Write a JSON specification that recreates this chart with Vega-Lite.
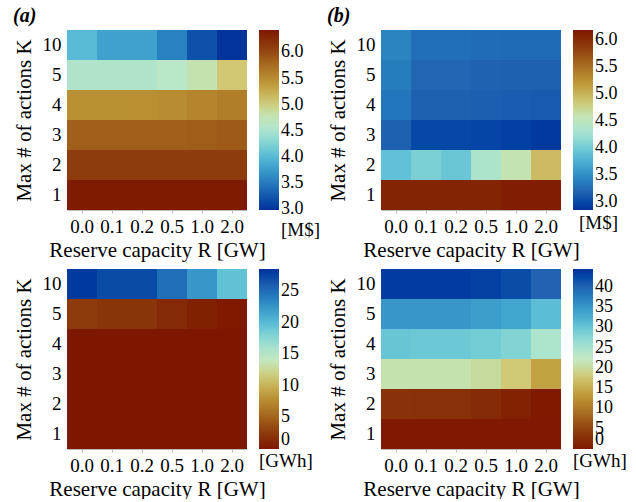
{
  "$schema": "https://vega.github.io/schema/vega-lite/v6.json",
  "padding": {"left": 13, "top": 6, "right": 0, "bottom": 0},
  "background": "white",
  "spacing": 9,
  "resolve": {"scale": {"color": "independent"}, "legend": {"color": "independent"}},
  "config": {
    "font": "Liberation Serif",
    "view": {"stroke": null},
    "axis": {"labelFont": "Liberation Serif", "titleFont": "Liberation Serif", "labelFontSize": 19, "titleFontSize": 21, "titleFontWeight": "normal", "labelColor": "#000", "titleColor": "#000", "grid": false},
    "legend": {"labelFont": "Liberation Serif", "titleFont": "Liberation Serif", "labelFontSize": 18, "titleFontSize": 19, "titleFontWeight": "normal", "labelColor": "#000", "titleColor": "#000", "gradientLength": 180, "gradientThickness": 20, "offset": 12, "titleOrient": "bottom", "titleAnchor": "end", "labelOverlap": false, "labelBaseline": "middle", "labelOffset": 4, "titlePadding": 3},
    "title": {"font": "Liberation Serif", "fontSize": 20, "fontStyle": "italic", "fontWeight": "bold", "anchor": "start", "frame": "bounds", "offset": 4}
  },
  "datasets": {
    "a": [
      {"K": "10", "R": "0.0", "v": 4.0}, {"K": "10", "R": "0.1", "v": 3.8}, {"K": "10", "R": "0.2", "v": 3.8}, {"K": "10", "R": "0.5", "v": 3.55}, {"K": "10", "R": "1.0", "v": 3.2}, {"K": "10", "R": "2.0", "v": 3.0},
      {"K": "5", "R": "0.0", "v": 4.55}, {"K": "5", "R": "0.1", "v": 4.55}, {"K": "5", "R": "0.2", "v": 4.55}, {"K": "5", "R": "0.5", "v": 4.62}, {"K": "5", "R": "1.0", "v": 4.8}, {"K": "5", "R": "2.0", "v": 5.05},
      {"K": "4", "R": "0.0", "v": 5.47}, {"K": "4", "R": "0.1", "v": 5.47}, {"K": "4", "R": "0.2", "v": 5.48}, {"K": "4", "R": "0.5", "v": 5.5}, {"K": "4", "R": "1.0", "v": 5.56}, {"K": "4", "R": "2.0", "v": 5.62},
      {"K": "3", "R": "0.0", "v": 5.85}, {"K": "3", "R": "0.1", "v": 5.85}, {"K": "3", "R": "0.2", "v": 5.85}, {"K": "3", "R": "0.5", "v": 5.85}, {"K": "3", "R": "1.0", "v": 5.86}, {"K": "3", "R": "2.0", "v": 5.88},
      {"K": "2", "R": "0.0", "v": 6.1}, {"K": "2", "R": "0.1", "v": 6.1}, {"K": "2", "R": "0.2", "v": 6.1}, {"K": "2", "R": "0.5", "v": 6.1}, {"K": "2", "R": "1.0", "v": 6.1}, {"K": "2", "R": "2.0", "v": 6.1},
      {"K": "1", "R": "0.0", "v": 6.4}, {"K": "1", "R": "0.1", "v": 6.4}, {"K": "1", "R": "0.2", "v": 6.4}, {"K": "1", "R": "0.5", "v": 6.4}, {"K": "1", "R": "1.0", "v": 6.4}, {"K": "1", "R": "2.0", "v": 6.4}
    ],
    "b": [
      {"K": "10", "R": "0.0", "v": 3.42}, {"K": "10", "R": "0.1", "v": 3.27}, {"K": "10", "R": "0.2", "v": 3.27}, {"K": "10", "R": "0.5", "v": 3.25}, {"K": "10", "R": "1.0", "v": 3.24}, {"K": "10", "R": "2.0", "v": 3.24},
      {"K": "5", "R": "0.0", "v": 3.37}, {"K": "5", "R": "0.1", "v": 3.2}, {"K": "5", "R": "0.2", "v": 3.2}, {"K": "5", "R": "0.5", "v": 3.18}, {"K": "5", "R": "1.0", "v": 3.17}, {"K": "5", "R": "2.0", "v": 3.17},
      {"K": "4", "R": "0.0", "v": 3.33}, {"K": "4", "R": "0.1", "v": 3.17}, {"K": "4", "R": "0.2", "v": 3.17}, {"K": "4", "R": "0.5", "v": 3.15}, {"K": "4", "R": "1.0", "v": 3.14}, {"K": "4", "R": "2.0", "v": 3.12},
      {"K": "3", "R": "0.0", "v": 3.17}, {"K": "3", "R": "0.1", "v": 3.0}, {"K": "3", "R": "0.2", "v": 3.0}, {"K": "3", "R": "0.5", "v": 2.98}, {"K": "3", "R": "1.0", "v": 2.95}, {"K": "3", "R": "2.0", "v": 2.9},
      {"K": "2", "R": "0.0", "v": 3.9}, {"K": "2", "R": "0.1", "v": 4.05}, {"K": "2", "R": "0.2", "v": 3.95}, {"K": "2", "R": "0.5", "v": 4.35}, {"K": "2", "R": "1.0", "v": 4.6}, {"K": "2", "R": "2.0", "v": 4.95},
      {"K": "1", "R": "0.0", "v": 6.08}, {"K": "1", "R": "0.1", "v": 6.08}, {"K": "1", "R": "0.2", "v": 6.08}, {"K": "1", "R": "0.5", "v": 6.08}, {"K": "1", "R": "1.0", "v": 6.15}, {"K": "1", "R": "2.0", "v": 6.15}
    ],
    "c": [
      {"K": "10", "R": "0.0", "v": 28}, {"K": "10", "R": "0.1", "v": 27}, {"K": "10", "R": "0.2", "v": 27}, {"K": "10", "R": "0.5", "v": 25}, {"K": "10", "R": "1.0", "v": 22.5}, {"K": "10", "R": "2.0", "v": 19.5},
      {"K": "5", "R": "0.0", "v": 2.6}, {"K": "5", "R": "0.1", "v": 2.1}, {"K": "5", "R": "0.2", "v": 2.1}, {"K": "5", "R": "0.5", "v": 1.3}, {"K": "5", "R": "1.0", "v": 0.6}, {"K": "5", "R": "2.0", "v": 0.2},
      {"K": "4", "R": "0.0", "v": 0}, {"K": "4", "R": "0.1", "v": 0}, {"K": "4", "R": "0.2", "v": 0}, {"K": "4", "R": "0.5", "v": 0}, {"K": "4", "R": "1.0", "v": 0}, {"K": "4", "R": "2.0", "v": 0},
      {"K": "3", "R": "0.0", "v": 0}, {"K": "3", "R": "0.1", "v": 0}, {"K": "3", "R": "0.2", "v": 0}, {"K": "3", "R": "0.5", "v": 0}, {"K": "3", "R": "1.0", "v": 0}, {"K": "3", "R": "2.0", "v": 0},
      {"K": "2", "R": "0.0", "v": 0}, {"K": "2", "R": "0.1", "v": 0}, {"K": "2", "R": "0.2", "v": 0}, {"K": "2", "R": "0.5", "v": 0}, {"K": "2", "R": "1.0", "v": 0}, {"K": "2", "R": "2.0", "v": 0},
      {"K": "1", "R": "0.0", "v": 0}, {"K": "1", "R": "0.1", "v": 0}, {"K": "1", "R": "0.2", "v": 0}, {"K": "1", "R": "0.5", "v": 0}, {"K": "1", "R": "1.0", "v": 0}, {"K": "1", "R": "2.0", "v": 0}
    ],
    "d": [
      {"K": "10", "R": "0.0", "v": 43.5}, {"K": "10", "R": "0.1", "v": 43.5}, {"K": "10", "R": "0.2", "v": 43.5}, {"K": "10", "R": "0.5", "v": 43}, {"K": "10", "R": "1.0", "v": 42}, {"K": "10", "R": "2.0", "v": 40},
      {"K": "5", "R": "0.0", "v": 35}, {"K": "5", "R": "0.1", "v": 35}, {"K": "5", "R": "0.2", "v": 35}, {"K": "5", "R": "0.5", "v": 34.2}, {"K": "5", "R": "1.0", "v": 33.5}, {"K": "5", "R": "2.0", "v": 31},
      {"K": "4", "R": "0.0", "v": 30}, {"K": "4", "R": "0.1", "v": 29.5}, {"K": "4", "R": "0.2", "v": 29.5}, {"K": "4", "R": "0.5", "v": 29}, {"K": "4", "R": "1.0", "v": 28}, {"K": "4", "R": "2.0", "v": 24.5},
      {"K": "3", "R": "0.0", "v": 21}, {"K": "3", "R": "0.1", "v": 21}, {"K": "3", "R": "0.2", "v": 21}, {"K": "3", "R": "0.5", "v": 20}, {"K": "3", "R": "1.0", "v": 18}, {"K": "3", "R": "2.0", "v": 14},
      {"K": "2", "R": "0.0", "v": 3}, {"K": "2", "R": "0.1", "v": 2.7}, {"K": "2", "R": "0.2", "v": 2.7}, {"K": "2", "R": "0.5", "v": 2}, {"K": "2", "R": "1.0", "v": 1}, {"K": "2", "R": "2.0", "v": 0.3},
      {"K": "1", "R": "0.0", "v": 0.2}, {"K": "1", "R": "0.1", "v": 0.2}, {"K": "1", "R": "0.2", "v": 0.2}, {"K": "1", "R": "0.5", "v": 0.2}, {"K": "1", "R": "1.0", "v": 0.2}, {"K": "1", "R": "2.0", "v": 0.2}
    ]
  },
  "vconcat": [
    {
      "spacing": 6,
      "resolve": {"scale": {"color": "independent"}, "legend": {"color": "independent"}},
      "hconcat": [
        {
          "title": {"text": "(a)"},
          "data": {"name": "a"},
          "width": 180, "height": 180,
          "mark": {"type": "rect"},
          "encoding": {
            "x": {"field": "R", "type": "nominal", "sort": ["0.0", "0.1", "0.2", "0.5", "1.0", "2.0"], "scale": {"paddingInner": 0, "paddingOuter": 0}, "axis": {"title": "Reserve capacity R [GW]", "labelAngle": 0, "domainColor": "#bbb", "tickColor": "#bbb", "tickSize": 3, "labelPadding": 4, "titlePadding": 3}},
            "y": {"field": "K", "type": "nominal", "sort": ["10", "5", "4", "3", "2", "1"], "scale": {"paddingInner": 0, "paddingOuter": 0}, "axis": {"title": "Max # of actions K", "domain": false, "ticks": false, "labelPadding": 6, "titlePadding": 8}},
            "color": {"field": "v", "type": "quantitative", "scale": {"domain": [2.98, 6.43], "nice": false, "zero": false, "range": ["#03319A", "#2163B2", "#3691C6", "#5ABCD6", "#96DDD5", "#C7E9C6", "#D2C874", "#BF9A3A", "#A86E22", "#8E3D0E", "#7E1700"]}, "legend": {"title": "[M$]", "titleAnchor": "middle", "titleAlign": "left", "values": [3, 3.5, 4, 4.5, 5, 5.5, 6], "format": ".1f"}}
          }
        },
        {
          "title": {"text": "(b)"},
          "data": {"name": "b"},
          "width": 180, "height": 180,
          "mark": {"type": "rect"},
          "encoding": {
            "x": {"field": "R", "type": "nominal", "sort": ["0.0", "0.1", "0.2", "0.5", "1.0", "2.0"], "scale": {"paddingInner": 0, "paddingOuter": 0}, "axis": {"title": "Reserve capacity R [GW]", "labelAngle": 0, "domainColor": "#bbb", "tickColor": "#bbb", "tickSize": 3, "labelPadding": 4, "titlePadding": 3}},
            "y": {"field": "K", "type": "nominal", "sort": ["10", "5", "4", "3", "2", "1"], "scale": {"paddingInner": 0, "paddingOuter": 0}, "axis": {"title": "Max # of actions K", "domain": false, "ticks": false, "labelPadding": 6, "titlePadding": 8}},
            "color": {"field": "v", "type": "quantitative", "scale": {"domain": [2.85, 6.19], "nice": false, "zero": false, "range": ["#03319A", "#2163B2", "#3691C6", "#5ABCD6", "#96DDD5", "#C7E9C6", "#D2C874", "#BF9A3A", "#A86E22", "#8E3D0E", "#7E1700"]}, "legend": {"title": "[M$]", "values": [3, 3.5, 4, 4.5, 5, 5.5, 6], "format": ".1f"}}
          }
        }
      ]
    },
    {
      "spacing": 14,
      "resolve": {"scale": {"color": "independent"}, "legend": {"color": "independent"}},
      "hconcat": [
        {
          "data": {"name": "c"},
          "width": 180, "height": 180,
          "mark": {"type": "rect"},
          "encoding": {
            "x": {"field": "R", "type": "nominal", "sort": ["0.0", "0.1", "0.2", "0.5", "1.0", "2.0"], "scale": {"paddingInner": 0, "paddingOuter": 0}, "axis": {"title": "Reserve capacity R [GW]", "labelAngle": 0, "domainColor": "#bbb", "tickColor": "#bbb", "tickSize": 3, "labelPadding": 4, "titlePadding": 3}},
            "y": {"field": "K", "type": "nominal", "sort": ["10", "5", "4", "3", "2", "1"], "scale": {"paddingInner": 0, "paddingOuter": 0}, "axis": {"title": "Max # of actions K", "domain": false, "ticks": false, "labelPadding": 6, "titlePadding": 8}},
            "color": {"field": "v", "type": "quantitative", "scale": {"domain": [0, 28.5], "nice": false, "zero": false, "range": ["#7E1700", "#8E3D0E", "#A86E22", "#BF9A3A", "#D2C874", "#C7E9C6", "#96DDD5", "#5ABCD6", "#3691C6", "#2163B2", "#03319A"]}, "legend": {"title": "[GWh]", "titleAnchor": "start", "values": [0, 5, 10, 15, 20, 25], "format": "d"}}
          }
        },
        {
          "data": {"name": "d"},
          "width": 180, "height": 180,
          "mark": {"type": "rect"},
          "encoding": {
            "x": {"field": "R", "type": "nominal", "sort": ["0.0", "0.1", "0.2", "0.5", "1.0", "2.0"], "scale": {"paddingInner": 0, "paddingOuter": 0}, "axis": {"title": "Reserve capacity R [GW]", "labelAngle": 0, "domainColor": "#bbb", "tickColor": "#bbb", "tickSize": 3, "labelPadding": 4, "titlePadding": 3}},
            "y": {"field": "K", "type": "nominal", "sort": ["10", "5", "4", "3", "2", "1"], "scale": {"paddingInner": 0, "paddingOuter": 0}, "axis": {"title": "Max # of actions K", "domain": false, "ticks": false, "labelPadding": 6, "titlePadding": 8}},
            "color": {"field": "v", "type": "quantitative", "scale": {"domain": [0, 44.4], "nice": false, "zero": false, "range": ["#7E1700", "#8E3D0E", "#A86E22", "#BF9A3A", "#D2C874", "#C7E9C6", "#96DDD5", "#5ABCD6", "#3691C6", "#2163B2", "#03319A"]}, "legend": {"title": "[GWh]", "titleAnchor": "start", "values": [0, 5, 10, 15, 20, 25, 30, 35, 40], "format": "d"}}
          }
        }
      ]
    }
  ]
}
